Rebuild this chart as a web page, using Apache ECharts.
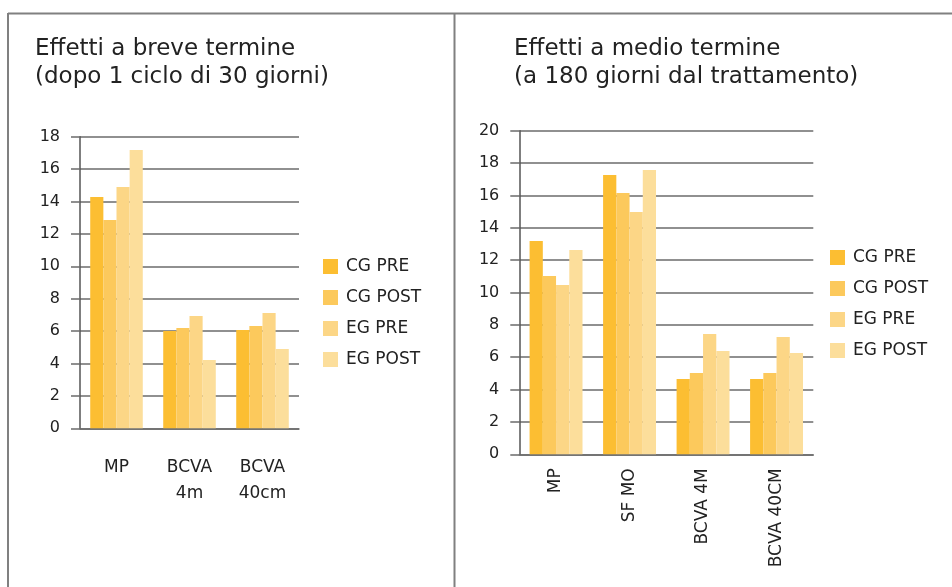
<!DOCTYPE html>
<html>
<head>
<meta charset="utf-8">
<script src="https://cdn.jsdelivr.net/npm/echarts@6/dist/echarts.min.js"></script>
<style>
  html, body { margin: 0; padding: 0; background: #fff; }
  #chart { width: 952px; height: 587px; }
</style>
</head>
<body>
<div id="chart"></div>
<script>
// Series names shared by both panels
const seriesNames = ['CG PRE', 'CG POST', 'EG PRE', 'EG POST'];
const seriesColors = ['#FCBE32', '#FCC95C', '#FCD686', '#FCDE9B'];

// Short-term panel (after one 30-day cycle)
const shortCategories = ['MP', 'BCVA\n4m', 'BCVA\n40cm'];
const shortCgPre  = [14.28, 6.01, 6.07];
const shortCgPost = [12.86, 6.19, 6.32];
const shortEgPre  = [14.89, 6.93, 7.12];
const shortEgPost = [17.18, 4.22, 4.90];
const shortTicks = { min: 0, max: 18, interval: 2 };

// Medium-term panel (180 days after treatment)
const midCategories = ['MP', 'SF MO', 'BCVA 4M', 'BCVA 40CM'];
const midCgPre  = [13.18, 17.26, 4.65, 4.65];
const midCgPost = [11.02, 16.15, 5.03, 5.03];
const midEgPre  = [10.46, 14.97, 7.44, 7.25];
const midEgPost = [12.63, 17.57, 6.39, 6.26];
const midTicks = { min: 0, max: 20, interval: 2 };

const FONT = 'DejaVu Sans';
const TEXT = '#222';
const GRID = '#6b6b6b';

function yAxisFor(idx, ticks) {
  return {
    type: 'value', gridIndex: idx,
    min: ticks.min, max: ticks.max, interval: ticks.interval,
    axisLine: { show: true, lineStyle: { color: '#555', width: 1.5 } },
    axisTick: { show: true, length: 9, lineStyle: { color: GRID, width: 1.5 } },
    splitLine: { show: true, lineStyle: { color: GRID, width: 1.5 } },
    axisLabel: { color: TEXT, fontFamily: FONT, fontSize: 16, margin: 20 }
  };
}

function barsFor(idx, data) {
  return seriesNames.map((name, i) => ({
    name, type: 'bar', xAxisIndex: idx, yAxisIndex: idx,
    data: data[i],
    barGap: '0%', barCategoryGap: '28%',
    itemStyle: { color: seriesColors[i] },
    emphasis: { disabled: true }
  }));
}

function legendFor(left, top) {
  return {
    orient: 'vertical', left, top,
    itemWidth: 15, itemHeight: 15, itemGap: 14,
    icon: 'rect',
    data: seriesNames,
    textStyle: { color: TEXT, fontFamily: FONT, fontSize: 17, padding: [0, 0, 0, 3] }
  };
}

const titleStyle = { color: TEXT, fontFamily: FONT, fontSize: 23, fontWeight: 'normal', lineHeight: 28 };

const chart = echarts.init(document.getElementById('chart'), null, { renderer: 'canvas' });

chart.setOption({
  animation: false,
  backgroundColor: '#fff',
  title: [
    { text: 'Effetti a breve termine\n(dopo 1 ciclo di 30 giorni)', left: 30, top: 30, textStyle: titleStyle },
    { text: 'Effetti a medio termine\n(a 180 giorni dal trattamento)', left: 509, top: 30, textStyle: titleStyle }
  ],
  legend: [legendFor(318, 253), legendFor(825, 244)],
  grid: [
    { left: 80, top: 136.7, width: 219, height: 291.6 },
    { left: 519.3, top: 130.7, width: 294, height: 323.6 }
  ],
  xAxis: [
    {
      type: 'category', gridIndex: 0, data: shortCategories,
      axisLine: { show: true, lineStyle: { color: GRID, width: 1.5 } },
      axisTick: { show: false },
      axisLabel: { color: TEXT, fontFamily: FONT, fontSize: 17, margin: 26, lineHeight: 26, interval: 0 }
    },
    {
      type: 'category', gridIndex: 1, data: midCategories,
      axisLine: { show: true, lineStyle: { color: GRID, width: 1.5 } },
      axisTick: { show: false },
      axisLabel: { color: TEXT, fontFamily: FONT, fontSize: 17, margin: 14, rotate: 90, interval: 0 }
    }
  ],
  yAxis: [yAxisFor(0, shortTicks), yAxisFor(1, midTicks)],
  series: [
    ...barsFor(0, [shortCgPre, shortCgPost, shortEgPre, shortEgPost]),
    ...barsFor(1, [midCgPre, midCgPost, midEgPre, midEgPost])
  ],
  graphic: [
    { type: 'line', shape: { x1: 8, y1: 13.5, x2: 952, y2: 13.5 }, style: { stroke: '#808080', lineWidth: 2 }, silent: true },
    { type: 'line', shape: { x1: 8, y1: 13, x2: 8, y2: 587 }, style: { stroke: '#808080', lineWidth: 2 }, silent: true },
    { type: 'line', shape: { x1: 454.5, y1: 13, x2: 454.5, y2: 587 }, style: { stroke: '#808080', lineWidth: 2 }, silent: true }
  ]
});
</script>
</body>
</html>
